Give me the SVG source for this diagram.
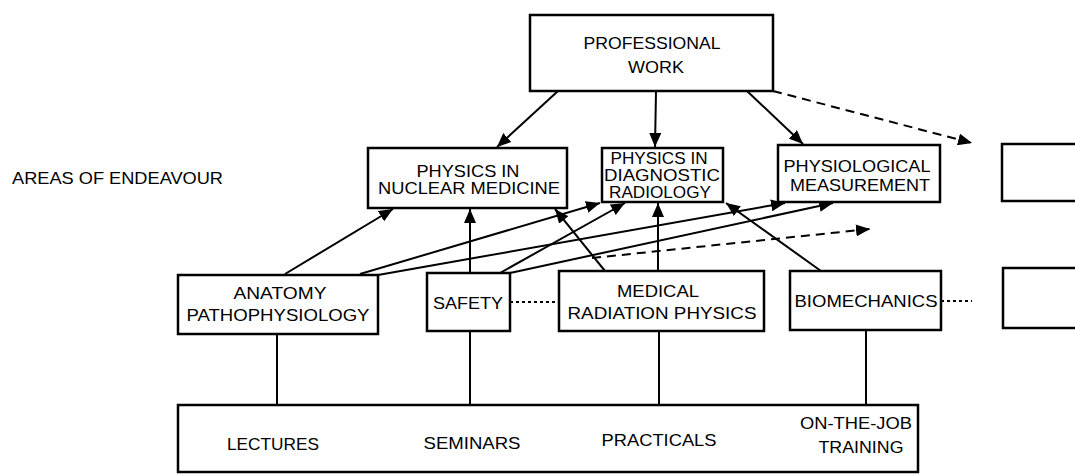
<svg xmlns="http://www.w3.org/2000/svg" width="1075" height="475" viewBox="0 0 1075 475">
  <style>
    .box { fill: #fff; stroke: #000; stroke-width: 2.5; }
    .lbl { font-family: "Liberation Sans", Arial, sans-serif; font-size: 17px; fill: #000; text-anchor: middle; }
    .side { font-family: "Liberation Sans", Arial, sans-serif; font-size: 17px; fill: #000; }
    .link { stroke: #000; stroke-width: 2; fill: none; }
    .arrow { marker-end: url(#head); }
    .dash { stroke-dasharray: 9 6; }
    .dot { stroke-dasharray: 3 3; }
  </style>
  <defs>
    <marker id="head" markerUnits="userSpaceOnUse" markerWidth="14" markerHeight="12" refX="14" refY="6" orient="auto">
      <path d="M0,0 L14,6 L0,12 z" fill="#000"/>
    </marker>
  </defs>
  <rect width="1075" height="475" fill="#fff"/>

  <!-- side heading -->
  <text class="side" x="12" y="184" textLength="211" lengthAdjust="spacingAndGlyphs">AREAS OF ENDEAVOUR</text>

  <!-- connectors -->
  <g id="connectors">
    <!-- from professional work down to the areas -->
    <line class="link arrow" x1="558" y1="91" x2="497" y2="147"/>
    <line class="link arrow" x1="656" y1="91" x2="655" y2="147"/>
    <line class="link arrow" x1="747" y1="91" x2="803" y2="144"/>
    <line class="link arrow dash" x1="773" y1="91" x2="972" y2="143"/>
    <!-- from subjects up to the areas -->
    <line class="link arrow" x1="285" y1="274" x2="393" y2="209"/>
    <line class="link arrow" x1="360" y1="274" x2="600" y2="203"/>
    <line class="link arrow" x1="378" y1="275" x2="785" y2="203"/>
    <line class="link arrow" x1="470" y1="273" x2="470" y2="209"/>
    <line class="link arrow" x1="500" y1="273" x2="625" y2="203"/>
    <line class="link arrow" x1="510" y1="273" x2="833" y2="203"/>
    <line class="link arrow" x1="605" y1="271" x2="555" y2="209"/>
    <line class="link arrow" x1="658" y1="271" x2="658" y2="203"/>
    <line class="link arrow dash" x1="592" y1="258" x2="870" y2="229"/>
    <line class="link arrow" x1="821" y1="271" x2="726" y2="203"/>
    <!-- dotted links between subjects -->
    <line class="link dot" x1="510" y1="302" x2="559" y2="302"/>
    <line class="link dot" x1="941" y1="301" x2="972" y2="301"/>
    <!-- teaching methods to subjects -->
    <line class="link" x1="277" y1="334" x2="277" y2="406"/>
    <line class="link" x1="470" y1="331" x2="470" y2="406"/>
    <line class="link" x1="659" y1="331" x2="659" y2="405"/>
    <line class="link" x1="866" y1="330" x2="866" y2="405"/>
  </g>

  <g id="professional-work">
    <rect class="box" x="530" y="15" width="243" height="76"/>
    <text class="lbl" x="652" y="49" textLength="137" lengthAdjust="spacingAndGlyphs">PROFESSIONAL</text>
    <text class="lbl" x="656" y="73" textLength="56" lengthAdjust="spacingAndGlyphs">WORK</text>
  </g>

  <g id="nuclear-medicine">
    <rect class="box" x="368" y="148" width="199" height="60"/>
    <text class="lbl" x="468" y="177" textLength="103" lengthAdjust="spacingAndGlyphs">PHYSICS IN</text>
    <text class="lbl" x="469" y="194" textLength="182" lengthAdjust="spacingAndGlyphs">NUCLEAR MEDICINE</text>
  </g>

  <g id="diagnostic-radiology">
    <rect class="box" x="602" y="148" width="121" height="54"/>
    <text class="lbl" x="659" y="164" font-size="15.5" textLength="97" lengthAdjust="spacingAndGlyphs">PHYSICS IN</text>
    <text class="lbl" x="662" y="181" font-size="15.5" textLength="116" lengthAdjust="spacingAndGlyphs">DIAGNOSTIC</text>
    <text class="lbl" x="660" y="198" font-size="15.5" textLength="102" lengthAdjust="spacingAndGlyphs">RADIOLOGY</text>
  </g>

  <g id="physiological-measurement">
    <rect class="box" x="778" y="145" width="162" height="57"/>
    <text class="lbl" x="857" y="172" textLength="147" lengthAdjust="spacingAndGlyphs">PHYSIOLOGICAL</text>
    <text class="lbl" x="860" y="191" textLength="140" lengthAdjust="spacingAndGlyphs">MEASUREMENT</text>
  </g>

  <g id="further-area">
    <rect class="box" x="1002" y="144" width="90" height="57"/>
  </g>

  <g id="anatomy-pathophysiology">
    <rect class="box" x="178" y="275" width="200" height="59"/>
    <text class="lbl" x="280" y="299" textLength="93" lengthAdjust="spacingAndGlyphs">ANATOMY</text>
    <text class="lbl" x="278" y="321" textLength="183" lengthAdjust="spacingAndGlyphs">PATHOPHYSIOLOGY</text>
  </g>

  <g id="safety">
    <rect class="box" x="427" y="273" width="83" height="58"/>
    <text class="lbl" x="468" y="309" textLength="70" lengthAdjust="spacingAndGlyphs">SAFETY</text>
  </g>

  <g id="medical-radiation-physics">
    <rect class="box" x="559" y="271" width="205" height="60"/>
    <text class="lbl" x="658" y="297" textLength="82" lengthAdjust="spacingAndGlyphs">MEDICAL</text>
    <text class="lbl" x="662" y="319" textLength="189" lengthAdjust="spacingAndGlyphs">RADIATION PHYSICS</text>
  </g>

  <g id="biomechanics">
    <rect class="box" x="790" y="271" width="151" height="59"/>
    <text class="lbl" x="866" y="307" textLength="143" lengthAdjust="spacingAndGlyphs">BIOMECHANICS</text>
  </g>

  <g id="further-subject">
    <rect class="box" x="1003" y="268" width="90" height="60"/>
  </g>

  <g id="teaching-methods">
    <rect class="box" x="178" y="405" width="740" height="67"/>
    <text class="lbl" x="273" y="450" textLength="92" lengthAdjust="spacingAndGlyphs">LECTURES</text>
    <text class="lbl" x="472" y="449" textLength="97" lengthAdjust="spacingAndGlyphs">SEMINARS</text>
    <text class="lbl" x="659" y="446" textLength="115" lengthAdjust="spacingAndGlyphs">PRACTICALS</text>
    <text class="lbl" x="856" y="429" textLength="112" lengthAdjust="spacingAndGlyphs">ON-THE-JOB</text>
    <text class="lbl" x="861" y="453" textLength="85" lengthAdjust="spacingAndGlyphs">TRAINING</text>
  </g>
</svg>
